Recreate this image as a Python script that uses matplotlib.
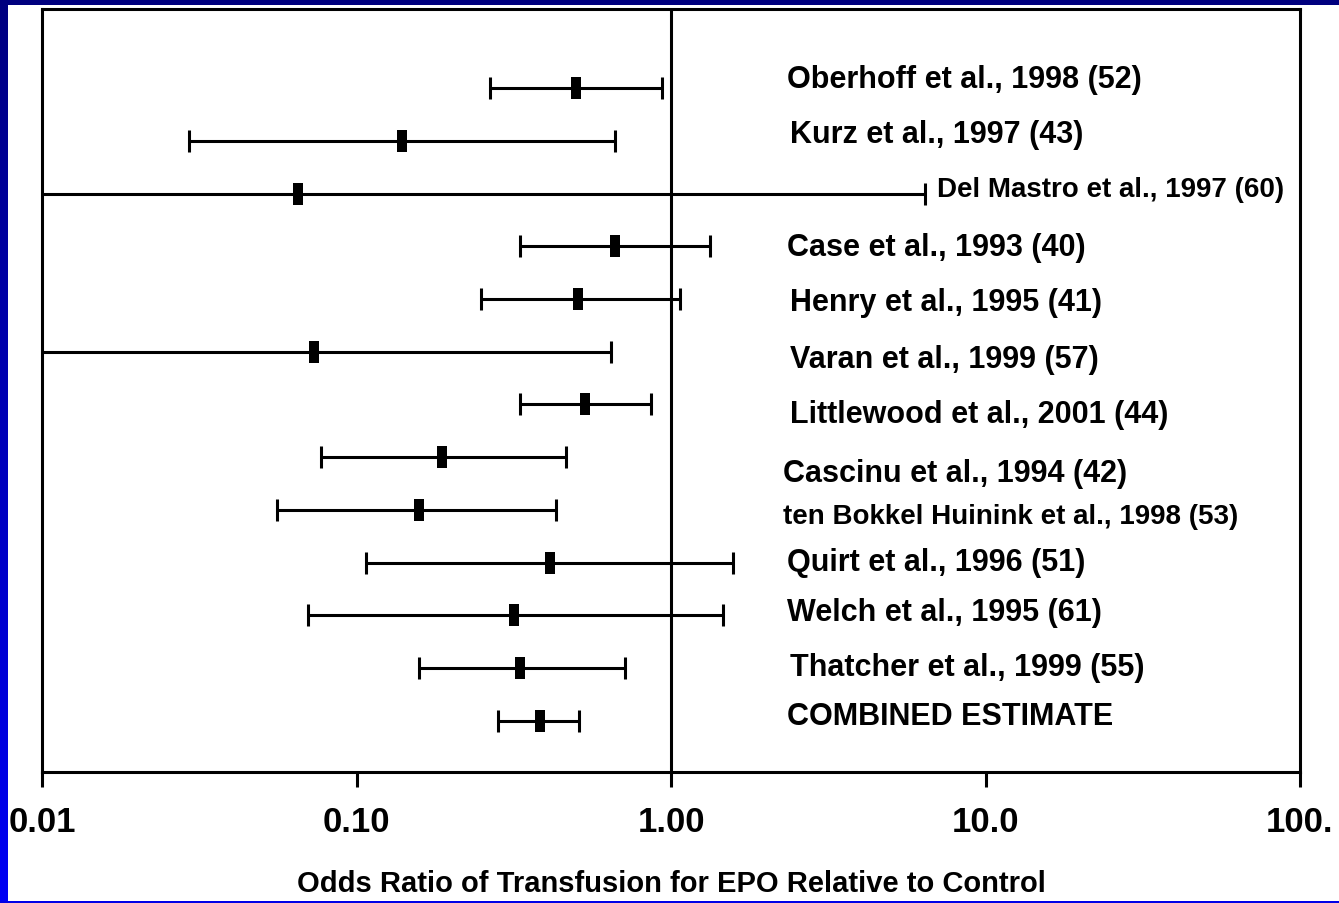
import numpy as np
import matplotlib
matplotlib.use("Agg")
import matplotlib.pyplot as plt
from matplotlib.path import Path
from matplotlib.patches import Rectangle
from matplotlib.colors import LinearSegmentedColormap
from matplotlib.ticker import NullLocator

plt.rcParams['font.family'] = ['Liberation Sans', 'DejaVu Sans']
plt.rcParams['font.weight'] = 'bold'

# study names, top to bottom
studies = ['Oberhoff et al., 1998 (52)', 'Kurz et al., 1997 (43)',
           'Del Mastro et al., 1997 (60)', 'Case et al., 1993 (40)',
           'Henry et al., 1995 (41)', 'Varan et al., 1999 (57)',
           'Littlewood et al., 2001 (44)', 'Cascinu et al., 1994 (42)',
           'ten Bokkel Huinink et al., 1998 (53)', 'Quirt et al., 1996 (51)',
           'Welch et al., 1995 (61)', 'Thatcher et al., 1999 (55)',
           'COMBINED ESTIMATE']
# odds ratio and 95% CI
odds = np.array([0.500, 0.140, 0.065, 0.666, 0.508, 0.073, 0.534,
                 0.187, 0.158, 0.412, 0.317, 0.332, 0.383])
ci_lo = np.array([0.266, 0.0294, 0.005, 0.332, 0.248, 0.006, 0.331,
                  0.077, 0.056, 0.1075, 0.070, 0.158, 0.281])
ci_hi = np.array([0.933, 0.666, 6.42, 1.33, 1.071, 0.645, 0.861,
                  0.463, 0.431, 1.571, 1.460, 0.714, 0.511])
tick_vals = [0.01, 0.1, 1.0, 10.0, 100.0]
tick_text = ['0.01', '0.10', '1.00', '10.0', '100.']

W, H = 1339, 904
fig = plt.figure(figsize=(W / 100, H / 100), dpi=100)
fig.patch.set_facecolor('white')

# slide frame: navy band on top, blue gradient strip on the left
bg = fig.add_axes([0, 0, 1, 1], zorder=-10)
bg.set_xlim(0, W)
bg.set_ylim(H, 0)
bg.axis('off')
blues = LinearSegmentedColormap.from_list('slide', ['#000080', '#0000F5'])
bg.imshow(np.linspace(0, 1, 256).reshape(-1, 1), extent=[0, 8, H, 0],
          cmap=blues, aspect='auto')
bg.add_patch(Rectangle((0, 0), W, 6, color='#00007F', lw=0))
bg.add_patch(Rectangle((0, H - 2), W, 2, color='#0000E6', lw=0))

ax = fig.add_axes([42 / W, 1 - 773 / H, 1258 / W, 763 / H])
rows = np.arange(len(studies))

ax.axvline(1.0, color='black', lw=2.2, zorder=1)
ax.errorbar(odds, rows, xerr=[odds - ci_lo, ci_hi - odds], fmt='none',
            ecolor='black', elinewidth=2.2, capsize=8, capthick=2.2, zorder=2)

# tall thin box marker
box = Path([(-0.45, -1), (0.45, -1), (0.45, 1), (-0.45, 1), (-0.45, -1)],
           [Path.MOVETO, Path.LINETO, Path.LINETO, Path.LINETO, Path.CLOSEPOLY])
ax.plot(odds, rows, linestyle='none', marker=box, markersize=16,
        color='black', markeredgewidth=0, zorder=3)

ax.set_xscale('log')
ax.set_xlim(0.01, 100)
ax.set_ylim(12.97, -1.5)
ax.set_xticks(tick_vals)
ax.set_xticklabels(tick_text, fontsize=25, fontweight='bold')
ax.xaxis.set_minor_locator(NullLocator())
ax.set_yticks([])
ax.tick_params(axis='x', direction='out', length=11, width=2.2, pad=13)
for sp in ax.spines.values():
    sp.set_linewidth(2.2)
ax.set_xlabel('Odds Ratio of Transfusion for EPO Relative to Control',
              fontsize=21, fontweight='bold', labelpad=22)

# study labels (pixel layout)
lab_x = [787, 790, 937, 787, 790, 790, 790, 783, 783, 787, 787, 790, 787]
lab_y = [80, 135, 190, 248, 303, 360, 415, 474, 517, 563, 613, 668, 717]
lab_fs = [22, 22, 20, 22, 22, 22, 22, 22, 20, 22, 22, 22, 22]
for name, x, y, fs in zip(studies, lab_x, lab_y, lab_fs):
    fig.text(x / W, 1 - y / H, name, ha='left', va='center',
             fontsize=fs, fontweight='bold')

fig.savefig('out.png', dpi=100)
